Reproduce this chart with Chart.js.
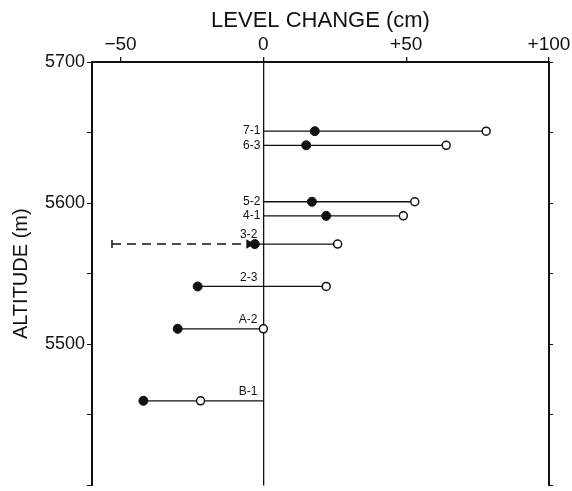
<!DOCTYPE html>
<html>
<head>
<meta charset="utf-8">
<script src="https://cdn.jsdelivr.net/npm/chart.js@4.4.1/dist/chart.umd.min.js"></script>
<style>
  html, body { margin: 0; padding: 0; background: #fff; }
  canvas { display: block; }
</style>
</head>
<body>
<canvas id="chart" width="572" height="491"></canvas>
<script>
// station data
const stations = ['7-1', '6-3', '5-2', '4-1', '3-2', '2-3', 'A-2', 'B-1'];
const altitude = [5651, 5641, 5601, 5591, 5571, 5541, 5511, 5460];
const filledChange = [18, 15, 17, 22, -3, -23, -30, -42];
const openChange = [78, 64, 53, 49, 26, 22, 0, -22];

// dashed arrow at station 3-2
const arrowAltitude = 5571;
const arrowChange = [-53, -5];

const xTicks = [-50, 0, 50, 100];
const xTickLabels = ['\u221250', '0', '+50', '+100'];
const yTicks = [5400, 5450, 5500, 5550, 5600, 5650, 5700];
const yTickLabels = ['', '', '5500', '', '5600', '', '5700'];

const ink = '#111';
const font = "'Liberation Sans', Arial, sans-serif";

const lineSets = stations.map((name, i) => {
  const xs = [0, filledChange[i], openChange[i]].sort((a, b) => a - b);
  return {
    type: 'scatter',
    label: name,
    data: xs.map(x => ({ x, y: altitude[i] })),
    showLine: true,
    borderColor: ink,
    borderWidth: 1.3,
    pointRadius: 0,
    order: 3
  };
});

const stationLabels = {
  id: 'stationLabels',
  afterDatasetsDraw(chart) {
    const { ctx, scales: { x, y } } = chart;
    ctx.save();
    ctx.fillStyle = ink;
    ctx.font = '12px ' + font;
    ctx.textAlign = 'right';
    ctx.textBaseline = 'middle';
    stations.forEach((name, i) => {
      const leftward = Math.min(filledChange[i], openChange[i]) < 0;
      const py = y.getPixelForValue(altitude[i]) - (leftward ? 9 : 0);
      ctx.fillText(name, x.getPixelForValue(0) - (leftward ? 6 : 3), py);
    });
    ctx.restore();
  }
};

const noVerticalPadding = s => { s.paddingTop = 0; s.paddingBottom = 0; };

new Chart(document.getElementById('chart'), {
  type: 'scatter',
  data: {
    datasets: [
      ...lineSets,
      {
        label: 'arrow',
        data: arrowChange.map(x => ({ x, y: arrowAltitude })),
        showLine: true,
        borderColor: ink,
        borderWidth: 1.5,
        borderDash: [9, 6],
        pointStyle: ['line', 'triangle'],
        rotation: [90, 90],
        pointRadius: [4, 4],
        pointBorderWidth: 1.5,
        pointBackgroundColor: ink,
        pointBorderColor: ink,
        order: 2
      },
      {
        label: 'filled',
        data: filledChange.map((x, i) => ({ x, y: altitude[i] })),
        pointRadius: 4.5,
        pointBackgroundColor: ink,
        pointBorderColor: ink,
        pointBorderWidth: 1,
        order: 1
      },
      {
        label: 'open',
        data: openChange.map((x, i) => ({ x, y: altitude[i] })),
        pointRadius: 4,
        pointBackgroundColor: '#fff',
        pointBorderColor: ink,
        pointBorderWidth: 1.5,
        order: 0
      }
    ]
  },
  options: {
    responsive: false,
    animation: false,
    layout: { padding: { bottom: 3 } },
    plugins: {
      legend: { display: false },
      tooltip: { enabled: false }
    },
    scales: {
      x: {
        type: 'linear',
        position: 'top',
        min: -60,
        max: 100,
        afterBuildTicks: s => { s.ticks = xTicks.map(v => ({ value: v })); },
        afterFit: s => { s.height = 62; },
        ticks: {
          callback: (v) => xTickLabels[xTicks.indexOf(v)],
          color: ink,
          font: { family: font, size: 19 },
          padding: 1,
          maxRotation: 0
        },
        grid: {
          color: c => (c.tick && c.tick.value === 0 ? ink : 'transparent'),
          lineWidth: 1.3,
          tickColor: ink,
          tickLength: 5
        },
        border: { display: true, color: ink, width: 2 },
        title: {
          display: true,
          text: 'LEVEL CHANGE (cm)',
          color: ink,
          font: { family: font, size: 22 },
          padding: { top: 8 }
        }
      },
      y: {
        type: 'linear',
        position: 'left',
        min: 5400,
        max: 5700,
        afterBuildTicks: s => { s.ticks = yTicks.map(v => ({ value: v })); },
        afterFit: s => { s.width = 92; noVerticalPadding(s); },
        ticks: {
          callback: (v) => yTickLabels[yTicks.indexOf(v)],
          color: ink,
          font: { family: font, size: 18 },
          padding: 2
        },
        grid: {
          drawOnChartArea: false,
          color: ink,
          tickLength: 5
        },
        border: { display: true, color: ink, width: 2 },
        title: {
          display: true,
          text: 'ALTITUDE (m)',
          color: ink,
          font: { family: font, size: 20 },
          padding: { top: 9 }
        }
      },
      y2: {
        type: 'linear',
        axis: 'y',
        position: 'right',
        min: 5400,
        max: 5700,
        afterBuildTicks: s => { s.ticks = yTicks.map(v => ({ value: v })); },
        afterFit: s => { s.width = 23; noVerticalPadding(s); },
        ticks: { display: false },
        grid: {
          drawOnChartArea: false,
          color: ink,
          tickLength: 4
        },
        border: { display: true, color: ink, width: 2 }
      }
    }
  },
  plugins: [stationLabels]
});
</script>
</body>
</html>
